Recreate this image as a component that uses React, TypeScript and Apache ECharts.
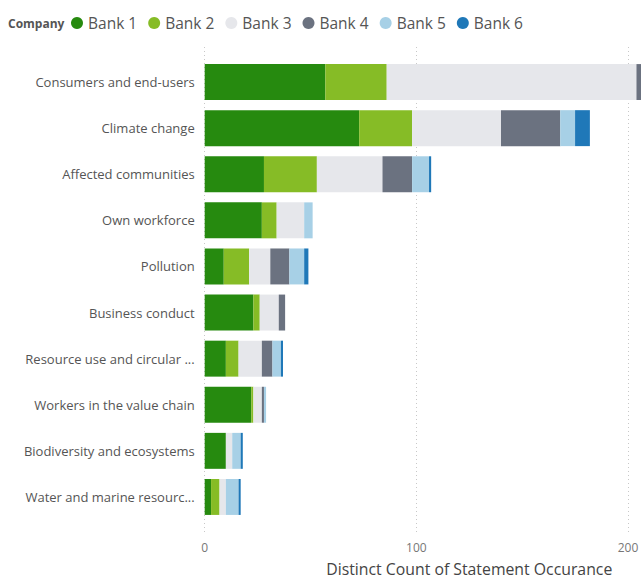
import React, { useEffect, useRef } from "react";
import * as echarts from "echarts";

const categories = [
  "Consumers and end-users",
  "Climate change",
  "Affected communities",
  "Own workforce",
  "Pollution",
  "Business conduct",
  "Resource use and circular ...",
  "Workers in the value chain",
  "Biodiversity and ecosystems",
  "Water and marine resourc...",
];

const seriesNames = ["Bank 1", "Bank 2", "Bank 3", "Bank 4", "Bank 5", "Bank 6"];
const bank1 = [57, 73, 28, 27, 9, 23, 10, 22, 10, 3];
const bank2 = [29, 25, 25, 7, 12, 3, 6, 1, 0, 4];
const bank3 = [118, 42, 31, 13, 10, 9, 11, 4, 3, 3];
const bank4 = [10, 28, 14, 0, 9, 3, 5, 1, 0, 0];
const bank5 = [4, 7, 8, 4, 7, 0, 4, 1, 4, 6];
const bank6 = [3, 7, 1, 0, 2, 0, 1, 0, 1, 1];
const seriesValues = [bank1, bank2, bank3, bank4, bank5, bank6];
const colors = ["#268a0f", "#86bc26", "#e6e7eb", "#6b7280", "#a7d0e6", "#1f78b8"];

const xTicks = { min: 0, max: 250, interval: 100 };
const axisName = "Distinct Count of Statement Occurance";
const legendTitle = "Company";

const FONT = "'Open Sans', 'Noto Sans', sans-serif";

export default function App() {
  const ref = useRef<HTMLDivElement>(null);
  useEffect(() => {
    document.body.style.margin = "0";
    if (!ref.current) return;
    const chart = echarts.init(ref.current, null, { renderer: "svg" });
    const gridLeft = 204.7;
    const gridWidth = 529.1;
    chart.setOption({
      animation: false,
      textStyle: { fontFamily: FONT },
      title: {
        text: legendTitle,
        left: 3,
        top: 12,
        textStyle: { fontSize: 12, fontWeight: "bold", color: "#555", fontFamily: FONT },
      },
      legend: {
        data: seriesNames,
        left: 66,
        top: 10,
        icon: "circle",
        itemWidth: 12,
        itemHeight: 12,
        itemGap: 11,
        textStyle: { fontSize: 15.5, color: "#555", fontFamily: FONT },
      },
      grid: [
        { left: gridLeft, width: gridWidth, top: 59, bottom: 58, outerBoundsMode: "none", containLabel: false },
        { left: gridLeft, width: gridWidth, top: 47, bottom: 46, outerBoundsMode: "none", containLabel: false },
      ],
      xAxis: [
        {
          type: "value",
          gridIndex: 0,
          min: xTicks.min,
          max: xTicks.max,
          interval: xTicks.interval,
          axisLine: { show: false },
          axisTick: { show: false },
          splitLine: { show: false },
          axisLabel: { color: "#777", fontSize: 12, margin: 21, fontFamily: FONT, showMaxLabel: false },
          name: axisName,
          nameLocation: "middle",
          nameGap: 40,
          nameTextStyle: { fontSize: 15.8, lineHeight: 17, color: "#444", fontFamily: FONT },
        },
        {
          type: "value",
          gridIndex: 1,
          min: xTicks.min,
          max: xTicks.max,
          interval: xTicks.interval,
          axisLine: { show: false },
          axisTick: { show: false },
          axisLabel: { show: false },
          splitLine: { show: true, lineStyle: { type: [1, 3], color: "#c8c8c8", width: 1 } },
        },
      ],
      yAxis: [
        {
          type: "category",
          gridIndex: 0,
          data: categories,
          inverse: true,
          axisLine: { show: false },
          axisTick: { show: false },
          axisLabel: { color: "#555", fontSize: 13, margin: 10, fontFamily: FONT },
        },
        {
          type: "category",
          gridIndex: 1,
          data: categories,
          show: false,
        },
      ],
      series: seriesNames.map((name, i) => ({
        name,
        type: "bar",
        stack: "total",
        xAxisIndex: 0,
        yAxisIndex: 0,
        barCategoryGap: "22%",
        itemStyle: { color: colors[i] },
        data: seriesValues[i],
      })),
    });
    return () => chart.dispose();
  }, []);
  return <div ref={ref} style={{ width: 641, height: 578 }} />;
}
